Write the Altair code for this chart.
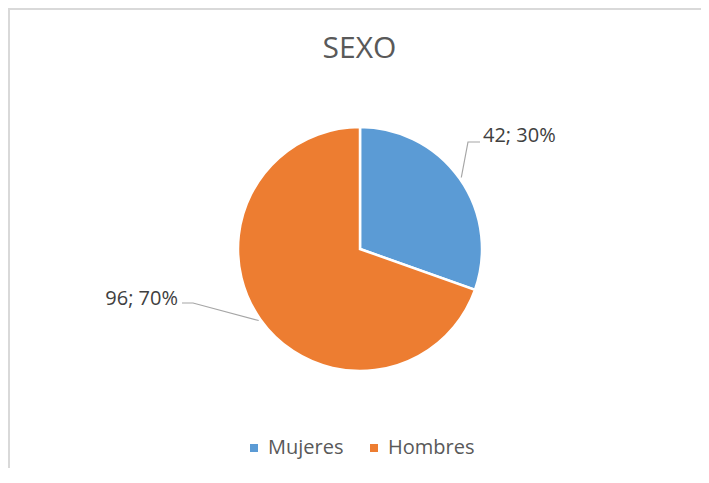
import altair as alt
import pandas as pd
import numpy as np

# ---- data ----
categories = ["Mujeres", "Hombres"]
values = [42, 96]
colors = ["#5B9BD5", "#ED7D31"]
title_text = "SEXO"

# ---- layout (pixels inside the chart) ----
W, H = 693, 460
CX, CY, R = 352, 241, 122
label_pos = {"Mujeres": (475, 134, "left"), "Hombres": (170, 297, "right")}
line_dy = {"Mujeres": 0, "Hombres": -2}

total = sum(values)
pct = [round(v / total * 100) for v in values]
labels = [f"{v}; {p}%" for v, p in zip(values, pct)]

df = pd.DataFrame({"cat": categories, "val": values, "label": labels,
                   "order": list(range(len(categories)))})

# leader lines from slice mid-angle to label
cum = np.cumsum([0] + values)
rows = []
for i, c in enumerate(categories):
    mid = (cum[i] + values[i] / 2) / total * 2 * np.pi
    sx = CX + (R + 2) * np.sin(mid)
    sy = CY - (R + 2) * np.cos(mid)
    lx, ly, side = label_pos[c]
    yl = ly + line_dy[c]
    if side == "left":
        ex, elx = lx - 3, lx - 15
    else:
        ex, elx = lx + 4, lx + 15
    rows += [{"cat": c, "k": 0, "x": sx, "y": sy},
             {"cat": c, "k": 1, "x": elx, "y": yl},
             {"cat": c, "k": 2, "x": ex, "y": yl}]
lead_df = pd.DataFrame(rows)

lab_df = df.copy()
lab_df["lx"] = [label_pos[c][0] for c in categories]
lab_df["ly"] = [label_pos[c][1] for c in categories]
lab_df["side"] = [label_pos[c][2] for c in categories]

border_df = pd.DataFrame({"a": [0]})

top_border = alt.Chart(border_df).mark_rule(color="#D9D9D9", strokeWidth=2).encode(
    x=alt.value(0), x2=alt.value(W), y=alt.value(1), y2=alt.value(1))
left_border = alt.Chart(border_df).mark_rule(color="#D9D9D9", strokeWidth=2).encode(
    x=alt.value(1), x2=alt.value(1), y=alt.value(0), y2=alt.value(H))

pie = alt.Chart(df).mark_arc(outerRadius=R, stroke="white", strokeWidth=2.5).encode(
    theta=alt.Theta("val:Q", stack=True),
    color=alt.Color("cat:N", sort=categories,
                    scale=alt.Scale(domain=categories, range=colors),
                    legend=alt.Legend(title=None, orient="none", legendX=236, legendY=430,
                                      direction="horizontal", symbolType="square",
                                      symbolSize=64, symbolStrokeWidth=0,
                                      labelFont="Open Sans", labelFontSize=20,
                                      labelColor="#595959", labelOffset=4,
                                      columnPadding=20, padding=0)),
    order=alt.Order("order:Q"),
    x=alt.value(CX), y=alt.value(CY))

leaders = alt.Chart(lead_df).mark_line(color="#A6A6A6", strokeWidth=1.2).encode(
    x=alt.X("x:Q", scale=None, axis=None),
    y=alt.Y("y:Q", scale=None, axis=None),
    detail="cat:N",
    order="k:Q")

def label_layer(side):
    return alt.Chart(lab_df).transform_filter(
        alt.datum.side == side
    ).mark_text(align=side, baseline="alphabetic", font="Open Sans", fontSize=20,
                color="#404040").encode(
        x=alt.X("lx:Q", scale=None, axis=None),
        y=alt.Y("ly:Q", scale=None, axis=None),
        text="label:N")

title = alt.Chart(pd.DataFrame({"t": [title_text]})).mark_text(
    align="center", baseline="alphabetic", font="Open Sans", fontSize=30, color="#595959"
).encode(x=alt.value(351.5), y=alt.value(58 - 8), text="t:N")

chart = alt.layer(top_border, left_border, pie, leaders,
                  label_layer("left"), label_layer("right"), title).properties(
    width=W, height=H, padding=0, autosize="none"
).configure_view(stroke=None)

chart.save("out.html", embed_options={"renderer": "svg", "actions": False})
